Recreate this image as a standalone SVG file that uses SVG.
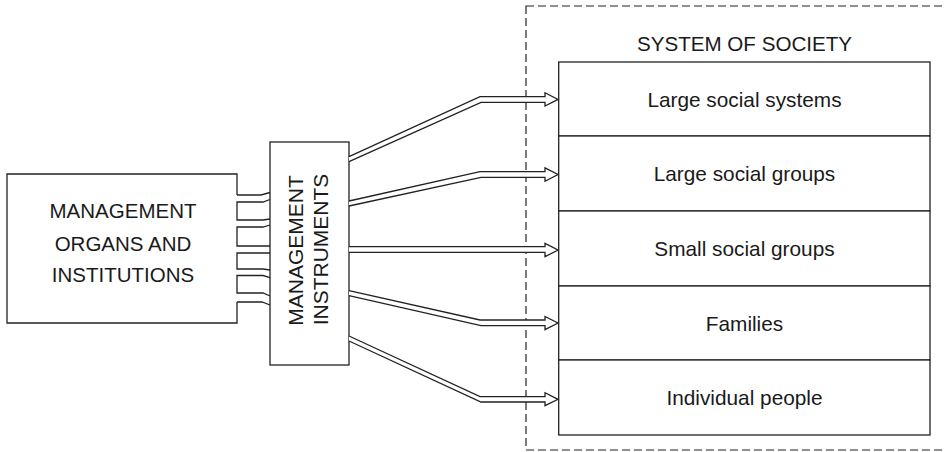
<svg xmlns="http://www.w3.org/2000/svg" width="946" height="452" viewBox="0 0 946 452">
  <style>
    .ln { fill: none; stroke: #222; stroke-width: 1.3; stroke-linejoin: miter; }
    .box { fill: #fff; stroke: #222; stroke-width: 1.3; }
    .arrow { fill: #fff; stroke: #222; stroke-width: 1.3; stroke-linejoin: miter; }
    .dash { fill: none; stroke: #222; stroke-width: 1.2; stroke-dasharray: 8 4; }
    .t { font-family: "Liberation Sans", Arial, sans-serif; fill: #1a1a1a; text-anchor: middle; }
    .lvl { font-size: 20.8px; }
  </style>

  <rect width="946" height="452" fill="#fff"/>

  <!-- dashed frame around the society system -->
  <g id="society-frame">
    <rect class="dash" x="526" y="6" width="430" height="444"/>
    <text class="t" x="744.5" y="51" font-size="20.6">SYSTEM OF SOCIETY</text>
  </g>

  <!-- left node: organs and institutions (right side is formed by the tabs) -->
  <g id="organs">
    <path class="ln" d="M237,195 L237,174 L7,174 L7,323 L237,323 L237,302"/>
    <text class="t" font-size="20.5" x="123" y="218">MANAGEMENT</text>
    <text class="t" font-size="20.5" x="123" y="250.5">ORGANS AND</text>
    <text class="t" font-size="20.5" x="123" y="282">INSTITUTIONS</text>
  </g>

  <!-- middle node: instruments -->
  <g id="instruments">
    <rect class="box" x="270" y="142" width="79" height="223"/>
    <text class="t" font-size="21" transform="translate(303,250.5) rotate(-90)">MANAGEMENT</text>
    <text class="t" font-size="21" transform="translate(328,249.5) rotate(-90)">INSTRUMENTS</text>
  </g>

  <!-- society levels -->
  <g id="society">
    <g id="level-1">
      <rect class="box" x="558.7" y="62" width="371.3" height="74"/>
      <text class="t lvl" x="744.5" y="106.5">Large social systems</text>
    </g>
    <g id="level-2">
      <rect class="box" x="558.7" y="136" width="371.3" height="75"/>
      <text class="t lvl" x="744.5" y="181">Large social groups</text>
    </g>
    <g id="level-3">
      <rect class="box" x="558.7" y="211" width="371.3" height="75"/>
      <text class="t lvl" x="744.5" y="255.5">Small social groups</text>
    </g>
    <g id="level-4">
      <rect class="box" x="558.7" y="286" width="371.3" height="74"/>
      <text class="t lvl" x="744.5" y="330.5">Families</text>
    </g>
    <g id="level-5">
      <rect class="box" x="558.7" y="360" width="371.3" height="75"/>
      <text class="t lvl" x="744.5" y="405">Individual people</text>
    </g>
  </g>

  <!-- connectors -->
  <g id="connectors">
    <!-- double-line channels from organs into instruments -->
    <path class="ln" d="M270,192.5 L261,195 L237,195"/>
    <path class="ln" d="M270,199.5 L263,202 L237,202 L237,220 L263,220 L270,219"/>
    <path class="ln" d="M270,225 L263,227 L237,227 L237,246 L270,246"/>
    <path class="ln" d="M270,253 L237,253 L237,269 L263,269 L270,270"/>
    <path class="ln" d="M270,277.5 L263,275.5 L237,275.5 L237,293 L263,293 L270,296"/>
    <path class="ln" d="M237,302 L262,302 L270,305"/>

    <!-- hollow arrows from instruments to each society level -->
    <path class="arrow" d="M349,156.7 L480,96.7 L545,96.7 L545,92.7 L558,99.4 L545,106 L545,102.3 L481,102.3 L349,161.7"/>
    <path class="arrow" d="M349,201 L480,171.7 L545,171.7 L545,167.8 L558,174.5 L545,181.3 L545,177.3 L481,177.3 L349,206"/>
    <path class="arrow" d="M349,246.7 L545,246.7 L545,243.3 L558,250 L545,256.7 L545,252.3 L349,252.3"/>
    <path class="arrow" d="M349,290.7 L480,320 L545,320 L545,316.5 L558,323 L545,329.7 L545,325.7 L481,325.7 L349,295.7"/>
    <path class="arrow" d="M349,336 L480,396.6 L545,396.6 L545,392.7 L558,399.3 L545,405.7 L545,402 L481,402 L349,341"/>
  </g>
</svg>
